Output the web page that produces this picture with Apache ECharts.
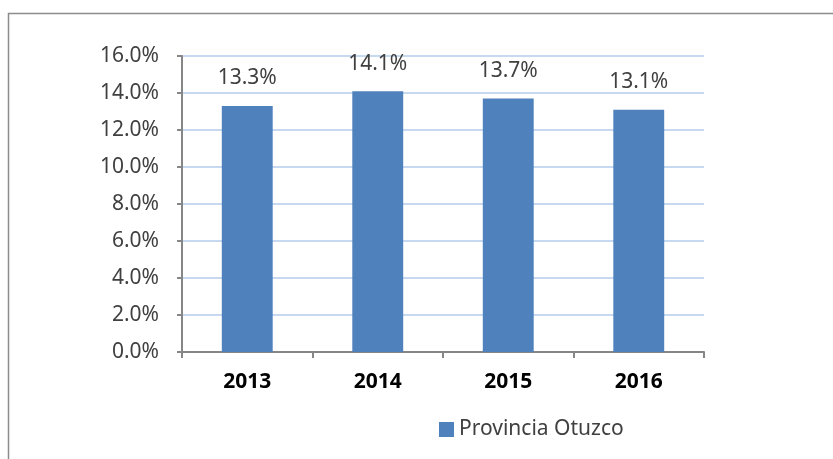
<!DOCTYPE html>
<html>
<head>
<meta charset="utf-8">
<script src="https://cdn.jsdelivr.net/npm/echarts@6/dist/echarts.min.js"></script>
<style>
html, body { margin: 0; padding: 0; background: #fff; }
#chart { width: 833px; height: 459px; }
</style>
</head>
<body>
<div id="chart"></div>
<script>
const years = ['2013', '2014', '2015', '2016']
const seriesName = 'Provincia Otuzco'
const rates = [13.3, 14.1, 13.7, 13.1]

const chart = echarts.init(document.getElementById('chart'))
const font = '"Noto Sans", sans-serif'
const option = {
    animation: false,
    textStyle: { fontFamily: font },
    graphic: [{
        type: 'rect',
        shape: { x: 8.5, y: 13.5, width: 900, height: 600 },
        style: { fill: 'none', stroke: '#8c8c8c', lineWidth: 1.5 },
        silent: true
    }],
    grid: { left: 182, right: 129, top: 56, bottom: 107 },
    legend: {
        data: [seriesName],
        left: 434,
        top: 414,
        itemWidth: 15,
        itemHeight: 15,
        itemGap: 5,
        icon: 'rect',
        textStyle: { fontSize: 21, color: '#404040', fontFamily: font }
    },
    xAxis: {
        type: 'category',
        data: years,
        axisLine: { lineStyle: { color: '#868686', width: 2 } },
        axisTick: { show: true, length: 6, lineStyle: { color: '#868686', width: 2 } },
        axisLabel: { fontSize: 21, color: '#000', fontWeight: 'bold', margin: 20, fontFamily: font }
    },
    yAxis: {
        type: 'value',
        min: 0,
        max: 16,
        interval: 2,
        axisLine: { show: true, lineStyle: { color: '#868686', width: 2 } },
        axisTick: { show: true, length: 5, lineStyle: { color: '#868686', width: 2 } },
        splitLine: { lineStyle: { color: '#c6d9f1', width: 2 } },
        axisLabel: {
            fontSize: 21,
            color: '#404040',
            margin: 23,
            fontFamily: font,
            formatter: v => v.toFixed(1) + '%'
        }
    },
    series: [{
        name: seriesName,
        type: 'bar',
        data: rates,
        barWidth: '39%',
        itemStyle: { color: '#4f81bd' },
        label: {
            show: true,
            position: 'top',
            distance: 17,
            fontSize: 21,
            color: '#404040',
            fontFamily: font,
            formatter: p => p.value.toFixed(1) + '%'
        }
    }]
}
chart.setOption(option)
</script>
</body>
</html>
